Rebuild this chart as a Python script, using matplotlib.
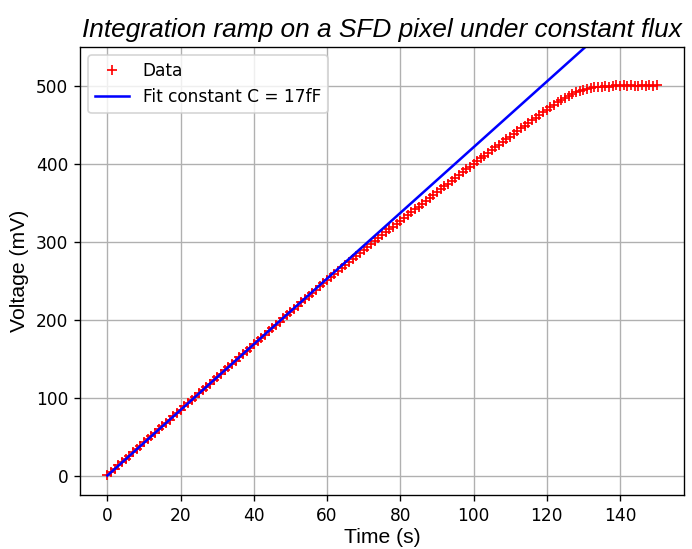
import numpy as np
import matplotlib
matplotlib.use("Agg")
from matplotlib import pyplot as plt

# sample times (s), one reading per second
time_s = np.arange(0, 151, 1)

# measured pixel voltage (mV)
voltage_mv = [
    0.5, 4.6, 8.9, 13.0, 17.2, 21.4, 25.5, 29.8, 34.0, 38.1,
    42.4, 46.6, 50.7, 55.0, 59.2, 63.3, 67.6, 71.8, 75.9, 80.2,
    84.5, 88.7, 92.8, 97.1, 101.3, 105.4, 109.6, 113.9, 118.0, 122.2,
    126.5, 130.6, 134.8, 139.0, 143.2, 147.4, 151.6, 155.7, 160.0, 164.1,
    168.3, 172.4, 176.6, 180.8, 184.9, 189.1, 193.2, 197.4, 201.5, 205.6,
    209.8, 213.9, 218.0, 222.1, 226.2, 230.3, 234.4, 238.5, 242.5, 246.6,
    250.6, 254.6, 258.6, 262.6, 266.5, 270.4, 274.3, 278.2, 282.0, 285.9,
    289.7, 293.4, 297.2, 300.9, 304.6, 308.3, 312.0, 315.6, 319.3, 322.9,
    326.5, 330.2, 333.9, 337.6, 341.3, 345.0, 348.7, 352.4, 356.1, 359.8,
    363.5, 367.2, 370.9, 374.5, 378.2, 381.8, 385.4, 389.0, 392.6, 396.2,
    399.8, 403.3, 406.8, 410.3, 413.8, 417.3, 420.8, 424.3, 427.8, 431.2,
    434.7, 438.2, 441.7, 445.2, 448.6, 452.1, 455.6, 459.0, 462.5, 465.9,
    469.3, 472.6, 475.8, 478.9, 481.9, 484.7, 487.3, 489.7, 491.8, 493.6,
    495.1, 496.3, 497.2, 497.9, 498.4, 498.8, 499.4, 498.9, 499.7, 500.3,
    499.6, 500.5, 499.8, 500.9, 500.1, 499.5, 500.6, 500.0, 500.8, 499.7,
    500.4,
]

# slope of the linear fit (mV/s)
fit_slope = 4.21

dpi = 122
fig = plt.figure(figsize=(692 / dpi, 549 / dpi), dpi=dpi)
ax = fig.add_axes([80 / 692, (549 - 495) / 549, 604 / 692, 448.3 / 549])

ax.plot(time_s, voltage_mv, 'r+', label='Data')
ax.plot(time_s, fit_slope * time_s, 'b-', label='Fit constant C = 17fF')

ax.set_ylim(-25, 550)
ax.grid(True)
ax.legend(loc='upper left')

ax.set_xlabel('Time (s)', fontsize=12.5, family='Liberation Sans', labelpad=2)
ax.set_ylabel('Voltage (mV)', fontsize=12.5, family='Liberation Sans')
ax.set_title('Integration ramp on a SFD pixel under constant flux',
             fontsize=15.5, family='Liberation Sans', style='italic')

fig.savefig('out.png', dpi=dpi)
